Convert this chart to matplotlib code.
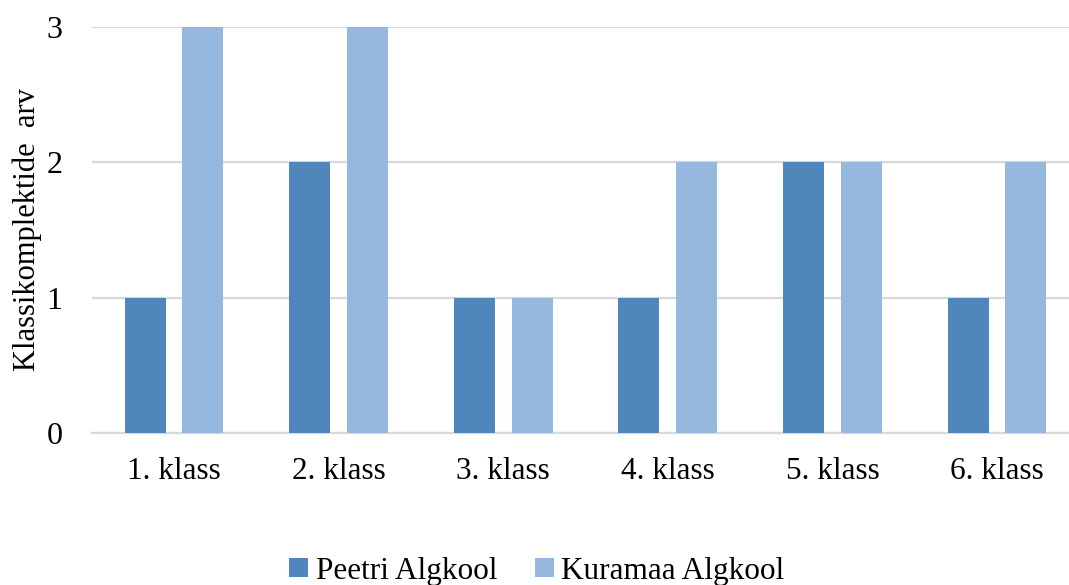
import numpy as np
import matplotlib.pyplot as plt

### DATA

categories = ['1. klass', '2. klass', '3. klass', '4. klass', '5. klass', '6. klass']
peetri = [1, 2, 1, 1, 2, 1]
kuramaa = [3, 3, 1, 2, 2, 2]
series_names = ['Peetri Algkool', 'Kuramaa Algkool']
y_ticks = [0, 1, 2, 3]

### STYLE

plt.rcParams['font.family'] = ['Liberation Serif', 'DejaVu Serif']
dark_blue = '#4F86BC'
light_blue = '#97B8DE'
grid_gray = '#D9D9D9'

### PLOT

fig = plt.figure(figsize=(10.69, 5.85), dpi=100)
ax = fig.add_axes([91.7 / 1069, 152 / 585, 987.6 / 1069, 406 / 585])

x = np.arange(len(categories))
offset = 0.176
width = 0.249
ax.bar(x - offset, peetri, width, color=dark_blue, label=series_names[0], zorder=3)
ax.bar(x + offset, kuramaa, width, color=light_blue, label=series_names[1], zorder=3)

ax.set_xlim(-0.5, len(categories) - 0.5)
ax.set_ylim(0, 3)
ax.set_yticks(y_ticks)
ax.set_xticks(x)
ax.set_xticklabels(categories, fontsize=22.5)
ax.tick_params(axis='y', labelsize=23, length=0, pad=21)
ax.tick_params(axis='x', length=0, pad=17)
ax.yaxis.grid(True, color=grid_gray, linewidth=1.6, zorder=0)
ax.set_axisbelow(True)
for side in ['top', 'right', 'left']:
    ax.spines[side].set_visible(False)
ax.spines['bottom'].set_color(grid_gray)
ax.spines['bottom'].set_linewidth(1.6)

ax.set_ylabel('Klassikomplektide  arv', fontsize=22, labelpad=3)

fig.legend(loc='center', bbox_to_anchor=(537 / 1069, 1 - 571 / 585), ncol=2,
           frameon=False, fontsize=22.5, handlelength=0.6, handleheight=0.6,
           handletextpad=0.25, columnspacing=1.2)

fig.savefig('out.png', dpi=100)
